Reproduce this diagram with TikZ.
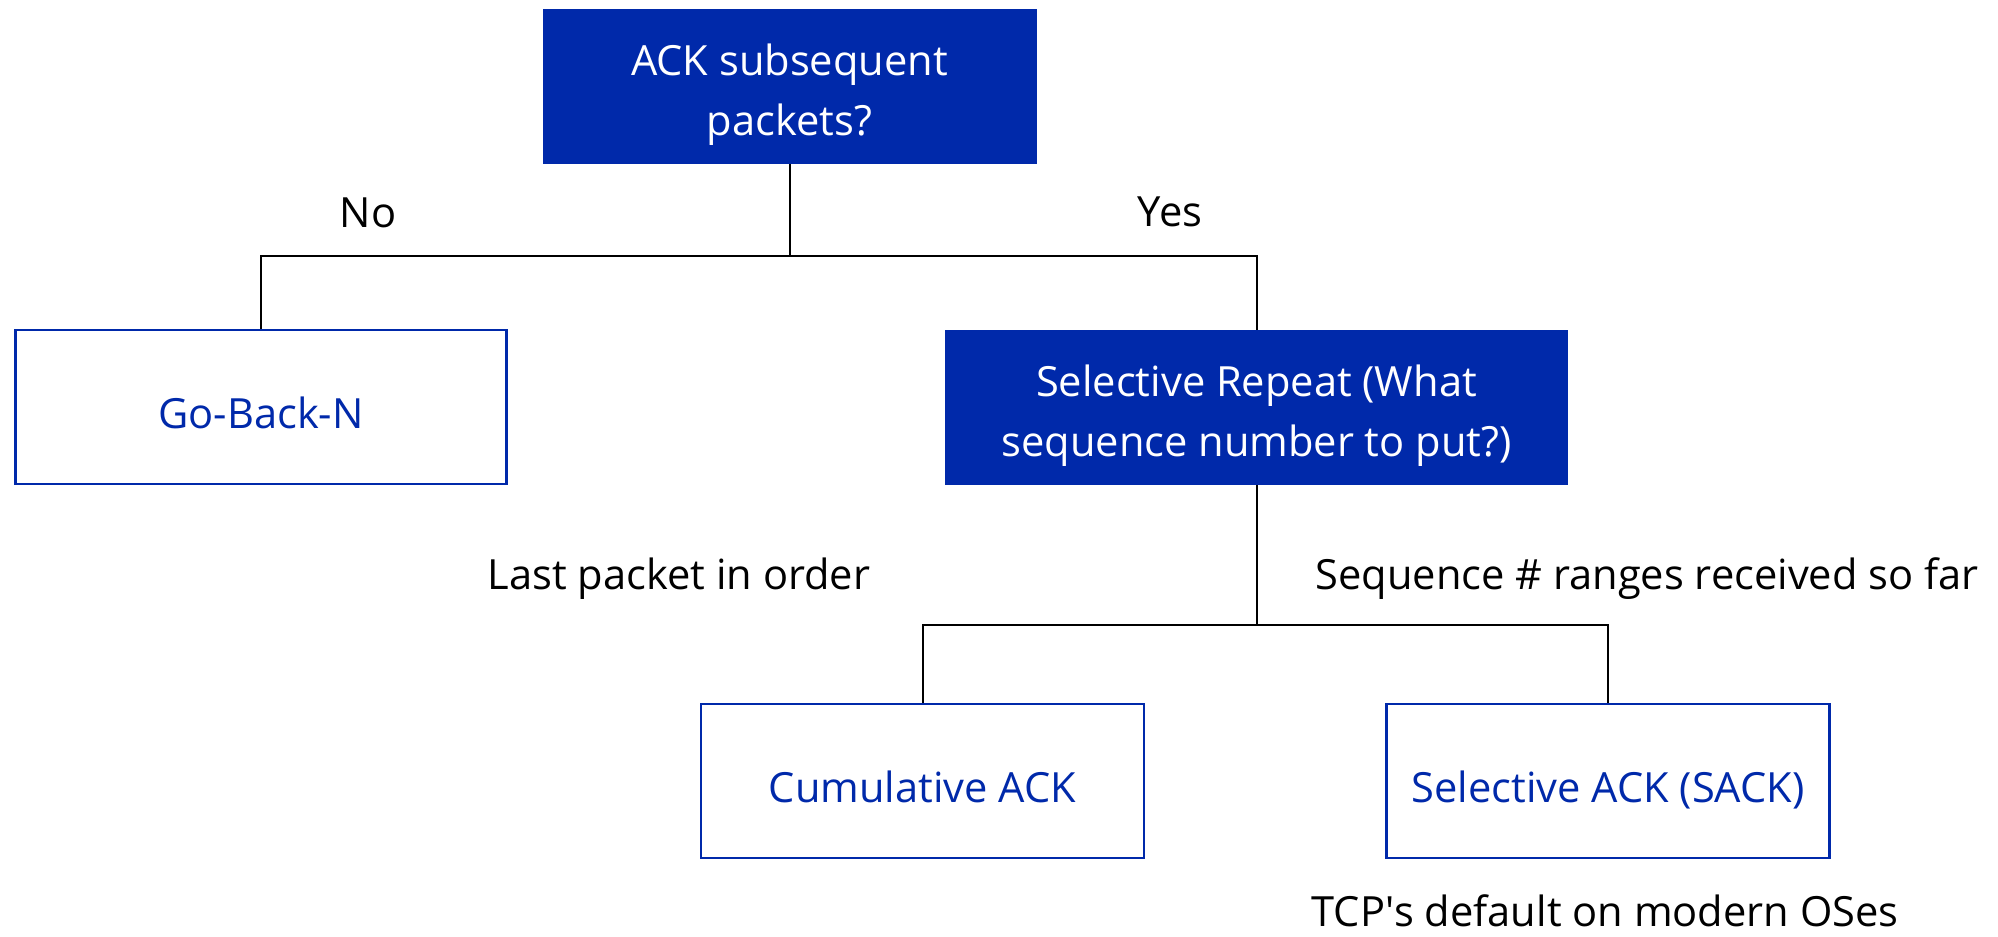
\documentclass[tikz,border=0pt]{standalone}
\usepackage{fontspec}
\setmainfont{Open Sans}
\usepackage{xcolor}
\definecolor{ackblue}{RGB}{0,41,170}

\begin{document}
\begin{tikzpicture}[x=0.5pt, y=-0.5pt,
    question/.style={fill=ackblue, draw=ackblue, text=white, align=center,
        inner sep=0pt, minimum height=77pt, text height=48.5pt, text depth=0pt,
        font=\fontsize{20.8}{30}\selectfont},
    answer/.style={fill=white, draw=ackblue, line width=1.3pt, text=ackblue,
        inner sep=0pt, minimum height=77pt, text height=21pt, text depth=0pt,
        font=\fontsize{20.8}{30}\selectfont},
    branch/.style={font=\fontsize{20.8}{30}\selectfont, anchor=base, inner sep=0pt},
    link/.style={line width=1pt}]
    \useasboundingbox (0,0) rectangle (1998,937);
    % Boxes
    \node[question, minimum width=246.5pt] (q1) at (789.5,86.5) {ACK subsequent\\packets?};
    \node[answer, minimum width=245.5pt] (gbn) at (261,407) {Go-Back-N};
    \node[question, minimum width=311pt] (sr) at (1256.5,407.5) {Selective Repeat (What\\sequence number to put?)};
    \node[answer, minimum width=221.5pt] (cum) at (922.5,781) {Cumulative ACK};
    \node[answer, minimum width=221.5pt] (sack) at (1608,781) {Selective ACK (SACK)};
    % Connectors
    \coordinate (j1) at (789.5,256);
    \coordinate (j2) at (1256.5,625);
    \draw[link] (q1.south) -- (j1) -| (gbn.north);
    \draw[link] (j1) -| (sr.north);
    \draw[link] (sr.south) -- (j2) -| (cum.north);
    \draw[link] (j2) -| (sack.north);
    % Labels
    \node[branch] (no) at (368,227) {No};
    \node[branch] (yes) at (1170,226) {Yes};
    \node[branch] (inorder) at (679,589) {Last packet in order};
    \node[branch] (ranges) at (1647,589) {Sequence \# ranges received so far};
    \node[branch] (tcp) at (1605,926) {TCP\textquotesingle s default on modern OSes};
\end{tikzpicture}
\end{document}
